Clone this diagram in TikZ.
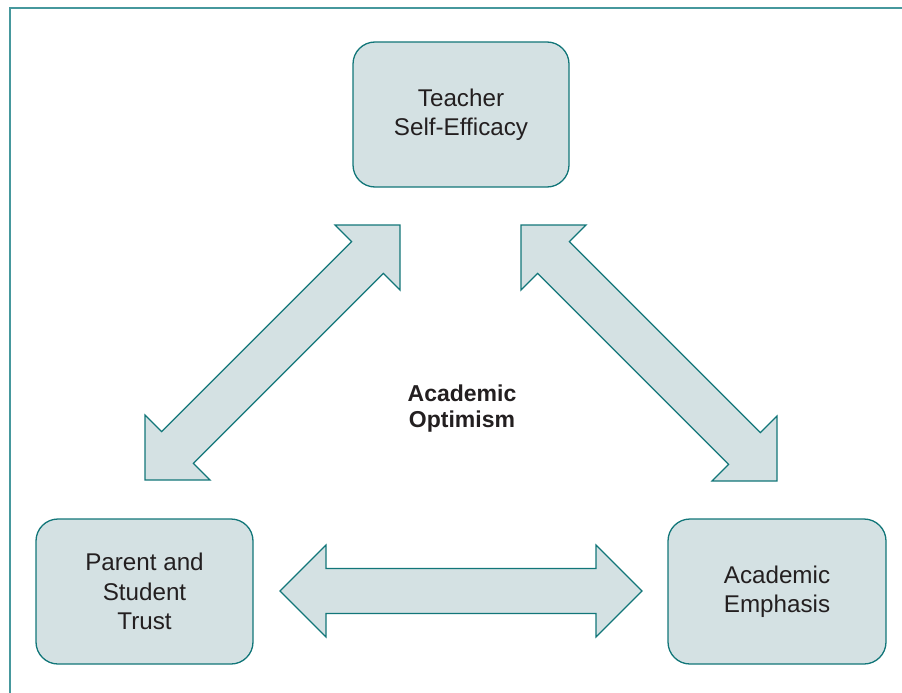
\documentclass[tikz,border=0pt]{standalone}
\usepackage{fontspec}
\setmainfont{Liberation Sans}
\usetikzlibrary{calc}
\definecolor{boxfill}{RGB}{212,225,227}
\definecolor{boxline}{RGB}{18,118,121}
\definecolor{frameline}{RGB}{70,152,157}
\definecolor{txt}{RGB}{35,31,32}
\tikzset{
  concept/.style={draw=boxline, line width=1.3pt, fill=boxfill, rounded corners=22pt,
    minimum height=145pt, align=center, text=txt, inner sep=0pt,
    font=\fontsize{24.2}{29.5}\selectfont},
  blockarr/.style={draw=boxline, line width=1.2pt, fill=boxfill, line join=miter},
  framesty/.style={draw=frameline},
  centertext/.style={align=center, text=txt, font=\bfseries\fontsize{23}{26}\selectfont}
}
\newcommand{\blockarrow}[2]{%
  \path[blockarr] (#1)
    -- ($(#1)!46pt!(#2)!46pt!90:(#2)$)
    -- ($(#1)!46pt!(#2)!22.5pt!90:(#2)$)
    -- ($(#2)!46pt!(#1)!22.5pt!-90:(#1)$)
    -- ($(#2)!46pt!(#1)!46pt!-90:(#1)$)
    -- (#2)
    -- ($(#2)!46pt!(#1)!46pt!90:(#1)$)
    -- ($(#2)!46pt!(#1)!22.5pt!90:(#1)$)
    -- ($(#1)!46pt!(#2)!22.5pt!-90:(#2)$)
    -- ($(#1)!46pt!(#2)!46pt!-90:(#2)$)
    -- cycle;}
\begin{document}
\begin{tikzpicture}[x=1pt,y=-1pt]
\useasboundingbox (0,0) rectangle (902,693);
% frame
\coordinate (ftr) at (902,8);
\coordinate (ftl) at (9,8);
\coordinate (fbl) at (10,693);
\draw[framesty, line width=2.2pt] (ftl) -- (ftr);
\draw[framesty, line width=1.2pt] (10,8) -- (fbl);
% concept boxes
\node[concept, minimum width=216pt] (tse) at (461,114.5) {Teacher\\Self-Efficacy};
\node[concept, minimum width=217pt] (pst) at (144.5,591.5) {Parent and\\Student\\Trust};
\node[concept, minimum width=218pt] (ae) at (777,591.5) {Academic\\Emphasis};
% arrow tips
\coordinate (l1) at (400,225);
\coordinate (l2) at (145,480);
\coordinate (r1) at (521,225);
\coordinate (r2) at (777,481);
\coordinate (h1) at (280,591);
\coordinate (h2) at (642,591);
\blockarrow{l1}{l2}
\blockarrow{r1}{r2}
\blockarrow{h1}{h2}
% centre label
\node[centertext] (ao) at (462,409) {Academic\\Optimism};
\end{tikzpicture}
\end{document}
